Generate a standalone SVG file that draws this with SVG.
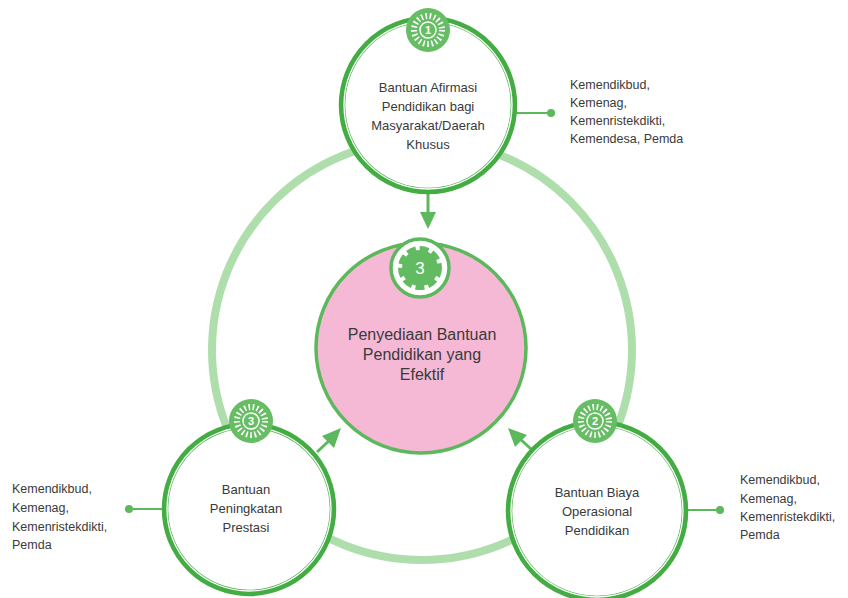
<svg xmlns="http://www.w3.org/2000/svg" width="848" height="598" viewBox="0 0 848 598">
<defs>
<style>
.t{font-family:"Liberation Sans",Arial,sans-serif;fill:#3a3a3a;}
.c{text-anchor:middle;}
.ring{fill:#fff;stroke:#43ad43;stroke-width:6.5;}
.inner{fill:none;stroke:#fff;stroke-width:1.3;}
.conn{stroke:#5cb85c;stroke-width:2;fill:none;}
.dot{fill:#5cb85c;}
.arr{stroke:#5cb85c;stroke-width:3;fill:none;}
.head{fill:#5cb85c;}
.bfill{fill:#66bd64;}
.spokes{fill:none;stroke:#fff;stroke-width:6;stroke-dasharray:1.6 2.6;}
.num{font-family:"Liberation Sans",Arial,sans-serif;fill:#fff;font-size:11px;text-anchor:middle;font-weight:bold;}
</style>
<g id="badge">
<circle r="22" class="bfill"/>
<circle r="14" class="spokes"/>
<circle r="8" fill="#66bd64" stroke="#fff" stroke-width="1.5"/>
</g>
</defs>
<circle id="outer-ring" cx="422" cy="350" r="210" fill="none" stroke="#afdead" stroke-width="8"/>
<g id="connectors">
<line class="conn" x1="515" y1="113" x2="551" y2="113"/><circle class="dot" cx="551" cy="113" r="4"/>
<line class="conn" x1="163" y1="509" x2="129" y2="509"/><circle class="dot" cx="129" cy="509" r="4"/>
<line class="conn" x1="688" y1="510" x2="720" y2="510"/><circle class="dot" cx="720" cy="510" r="4"/>
<line class="arr" x1="428" y1="193" x2="428" y2="216"/><polygon class="head" points="428,229 420,212 436,212"/>
<line class="arr" x1="317" y1="452" x2="332" y2="438"/><polygon class="head" points="341,428 322,436 334,448"/>
<line class="arr" x1="531" y1="449" x2="518" y2="437"/><polygon class="head" points="508,428 515,447 527,435"/>
</g>
<g id="center">
<circle cx="421" cy="348" r="105" fill="#f5b9d5" stroke="#5cb85c" stroke-width="3.5"/>
<circle cx="420" cy="268" r="29" fill="#fff" stroke="#5cb85c" stroke-width="3.5"/>
<circle cx="420" cy="268" r="18" fill="#62bb60"/>
<circle cx="420" cy="268" r="19.5" fill="none" stroke="#62bb60" stroke-width="5" stroke-dasharray="9 4"/>
<text class="num" x="420" y="274" style="font-size:17px;font-weight:normal">3</text>
<text class="t c" font-size="16"><tspan x="422" y="340">Penyediaan Bantuan</tspan><tspan x="422" y="360">Pendidikan yang</tspan><tspan x="422" y="380">Efektif</tspan></text>
</g>
<g id="node-1">
<circle cx="428" cy="105" r="86" class="ring"/><circle cx="428" cy="105" r="84" class="inner"/>
<use href="#badge" x="428" y="30"/><text class="num" x="428" y="34">1</text>
<text class="t c" font-size="13"><tspan x="428" y="92">Bantuan Afirmasi</tspan><tspan x="428" y="111">Pendidikan bagi</tspan><tspan x="428" y="130">Masyarakat/Daerah</tspan><tspan x="428" y="149">Khusus</tspan></text>
</g>
<g id="node-2">
<circle cx="597" cy="511" r="88" class="ring"/><circle cx="597" cy="511" r="86" class="inner"/>
<use href="#badge" x="595" y="421"/><text class="num" x="595" y="425">2</text>
<text class="t c" font-size="13"><tspan x="597" y="497">Bantuan Biaya</tspan><tspan x="597" y="516">Operasional</tspan><tspan x="597" y="535">Pendidikan</tspan></text>
</g>
<g id="node-3">
<circle cx="249" cy="509" r="84" class="ring"/><circle cx="249" cy="509" r="82" class="inner"/>
<use href="#badge" x="251" y="421"/><text class="num" x="251" y="425">3</text>
<text class="t c" font-size="13"><tspan x="246" y="494">Bantuan</tspan><tspan x="246" y="513">Peningkatan</tspan><tspan x="246" y="532">Prestasi</tspan></text>
</g>
<g id="label-top">
<text class="t" font-size="12.5"><tspan x="570" y="89">Kemendikbud,</tspan><tspan x="570" y="107">Kemenag,</tspan><tspan x="570" y="125">Kemenristekdikti,</tspan><tspan x="570" y="143">Kemendesa, Pemda</tspan></text>
</g>
<g id="label-left">
<text class="t" font-size="12.5"><tspan x="12" y="493">Kemendikbud,</tspan><tspan x="12" y="512">Kemenag,</tspan><tspan x="12" y="531">Kemenristekdikti,</tspan><tspan x="12" y="549">Pemda</tspan></text>
</g>
<g id="label-right">
<text class="t" font-size="12.5"><tspan x="740" y="484">Kemendikbud,</tspan><tspan x="740" y="503">Kemenag,</tspan><tspan x="740" y="521">Kemenristekdikti,</tspan><tspan x="740" y="539">Pemda</tspan></text>
</g>
</svg>
